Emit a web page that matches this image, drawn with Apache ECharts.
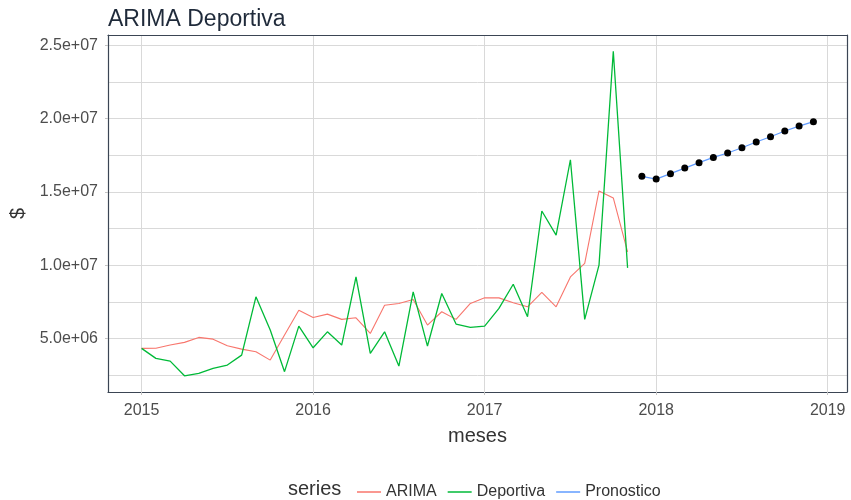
<!DOCTYPE html>
<html>
<head>
    <meta charset="utf-8">
    <title>ARIMA Deportiva</title>
    <script src="https://cdn.jsdelivr.net/npm/echarts@6/dist/echarts.min.js"></script>
    <style>
        html, body { margin: 0; padding: 0; background: #fff; }
        #chart { width: 851px; height: 500px; }
    </style>
</head>
<body>
    <div id="chart"></div>
    <script>
        // meses historicos (ene 2015 - nov 2017)
        var mesesHist = ['2015-01', '2015-02', '2015-03', '2015-04', '2015-05', '2015-06',
            '2015-07', '2015-08', '2015-09', '2015-10', '2015-11', '2015-12',
            '2016-01', '2016-02', '2016-03', '2016-04', '2016-05', '2016-06',
            '2016-07', '2016-08', '2016-09', '2016-10', '2016-11', '2016-12',
            '2017-01', '2017-02', '2017-03', '2017-04', '2017-05', '2017-06',
            '2017-07', '2017-08', '2017-09', '2017-10', '2017-11'];
        // meses del pronostico (dic 2017 - dic 2018)
        var mesesPron = ['2017-12', '2018-01', '2018-02', '2018-03', '2018-04', '2018-05',
            '2018-06', '2018-07', '2018-08', '2018-09', '2018-10', '2018-11', '2018-12'];

        var arima = [4.32e6, 4.33e6, 4.55e6, 4.73e6, 5.07e6, 4.95e6, 4.5e6, 4.27e6, 4.09e6,
            3.52e6, 5.23e6, 6.93e6, 6.43e6, 6.66e6, 6.3e6, 6.41e6, 5.34e6, 7.27e6, 7.39e6,
            7.66e6, 5.91e6, 6.82e6, 6.3e6, 7.39e6, 7.77e6, 7.77e6, 7.43e6, 7.16e6, 8.14e6,
            7.16e6, 9.2e6, 1.012e7, 1.507e7, 1.459e7, 1.091e7];
        var deportiva = [4.32e6, 3.64e6, 3.45e6, 2.45e6, 2.61e6, 2.96e6, 3.18e6, 3.86e6, 7.84e6,
            5.57e6, 2.73e6, 5.84e6, 4.36e6, 5.45e6, 4.55e6, 9.2e6, 3.98e6, 5.45e6, 3.11e6,
            8.18e6, 4.48e6, 8.07e6, 5.98e6, 5.75e6, 5.84e6, 7.05e6, 8.7e6, 6.48e6, 1.37e7,
            1.205e7, 1.72e7, 6.3e6, 1.0e7, 2.461e7, 9.82e6];
        var pronostico = [1.607e7, 1.588e7, 1.625e7, 1.663e7, 1.70e7, 1.736e7, 1.766e7,
            1.802e7, 1.841e7, 1.877e7, 1.916e7, 1.95e7, 1.98e7];

        var yTicks = [5e6, 1e7, 1.5e7, 2e7, 2.5e7];

        function anio(mes) {
            var p = mes.split('-');
            return +p[0] + (+p[1] - 1) / 12;
        }
        function pares(meses, vals) {
            return meses.map(function (m, i) { return [anio(m), vals[i]]; });
        }
        function sci(v) {
            var s = v.toExponential(1).split('e');
            var e = +s[1];
            return s[0] + 'e' + (e < 0 ? '-' : '+') + (Math.abs(e) < 10 ? '0' : '') + Math.abs(e);
        }

        // expansion del 5% como ggplot
        var xs = mesesHist.concat(mesesPron).map(anio);
        var xMin = Math.min.apply(null, xs), xMax = Math.max.apply(null, xs);
        var xPad = (xMax - xMin) * 0.05;
        var ys = arima.concat(deportiva, pronostico);
        var yMin = Math.min.apply(null, ys), yMax = Math.max.apply(null, ys);
        var yPad = (yMax - yMin) * 0.05;

        var font = 'Liberation Sans, Arial, sans-serif';
        var borde = { show: true, lineStyle: { color: '#3b4554', width: 1.2 } };

        // ejes extra solo para el borde del panel
        function ejeBorde(pos, min, max) {
            return {
                type: 'value', position: pos, min: min, max: max,
                axisLine: borde, axisTick: { show: false }, axisLabel: { show: false },
                splitLine: { show: false }
            };
        }

        var chart = echarts.init(document.getElementById('chart'));
        chart.setOption({
            animation: false,
            backgroundColor: '#fff',
            title: {
                text: 'ARIMA Deportiva',
                left: 103,
                top: 3,
                textStyle: { fontFamily: font, fontSize: 23, fontWeight: 'normal', color: '#1f2a3a' }
            },
            grid: {
                left: 108, right: 4, top: 35, bottom: 108,
                show: true,
                backgroundColor: '#fff',
                borderWidth: 0
            },
            legend: {
                left: 352,
                top: 479,
                itemWidth: 24,
                itemHeight: 1.5,
                itemGap: 11,
                icon: 'rect',
                textStyle: { fontFamily: font, fontSize: 16, color: '#333' },
                data: [
                    { name: 'ARIMA', itemStyle: { color: '#F8766D' } },
                    { name: 'Deportiva', itemStyle: { color: '#00BA38' } },
                    { name: 'Pronostico', itemStyle: { color: '#619CFF' } }
                ]
            },
            graphic: [{
                type: 'text',
                left: 288,
                top: 479,
                style: { text: 'series', fontFamily: font, fontSize: 20, fill: '#333' }
            }],
            xAxis: [{
                type: 'value',
                min: xMin - xPad,
                max: xMax + xPad,
                minInterval: 1,
                maxInterval: 1,
                name: 'meses',
                nameLocation: 'middle',
                nameGap: 34,
                nameTextStyle: { fontFamily: font, fontSize: 20, color: '#333' },
                axisLine: borde,
                axisTick: { show: true, length: 3, lineStyle: { color: '#c4c4c4' } },
                axisLabel: {
                    margin: 11,
                    fontFamily: font, fontSize: 16, color: '#4d4d4d',
                    showMinLabel: false, showMaxLabel: false,
                    formatter: function (v) { return Math.abs(v - Math.round(v)) < 1e-6 ? String(Math.round(v)) : ''; }
                },
                splitLine: { show: true, lineStyle: { color: '#d9d9d9', width: 1 } }
            }, ejeBorde('top', xMin - xPad, xMax + xPad)],
            yAxis: [{
                type: 'value',
                min: yMin - yPad,
                max: yMax + yPad,
                minInterval: yTicks[1] - yTicks[0],
                maxInterval: yTicks[1] - yTicks[0],
                name: '$',
                nameLocation: 'middle',
                nameRotate: 90,
                nameGap: 78,
                nameTextStyle: { fontFamily: font, fontSize: 20, color: '#333' },
                axisLine: borde,
                axisTick: { show: true, length: 3, lineStyle: { color: '#c4c4c4' } },
                axisLabel: {
                    margin: 10,
                    fontFamily: font, fontSize: 16, color: '#4d4d4d',
                    showMinLabel: false, showMaxLabel: false,
                    formatter: function (v) { return yTicks.indexOf(v) >= 0 ? sci(v) : ''; }
                },
                splitLine: { show: true, lineStyle: { color: '#d9d9d9', width: 1 } },
                minorTick: { show: false, splitNumber: 2 },
                minorSplitLine: { show: true, lineStyle: { color: '#d9d9d9', width: 1 } }
            }, ejeBorde('right', yMin - yPad, yMax + yPad)],
            series: [
                {
                    name: 'ARIMA',
                    type: 'line',
                    data: pares(mesesHist, arima),
                    showSymbol: false,
                    color: '#F8766D',
                    lineStyle: { color: '#F8766D', width: 1.1 }
                },
                {
                    name: 'Deportiva',
                    type: 'line',
                    data: pares(mesesHist, deportiva),
                    showSymbol: false,
                    color: '#00BA38',
                    lineStyle: { color: '#00BA38', width: 1.3 }
                },
                {
                    name: 'Pronostico',
                    type: 'line',
                    data: pares(mesesPron, pronostico),
                    symbol: 'circle',
                    symbolSize: 7,
                    itemStyle: { color: '#000' },
                    lineStyle: { color: '#619CFF', width: 1.2 }
                }
            ]
        });
    </script>
</body>
</html>
